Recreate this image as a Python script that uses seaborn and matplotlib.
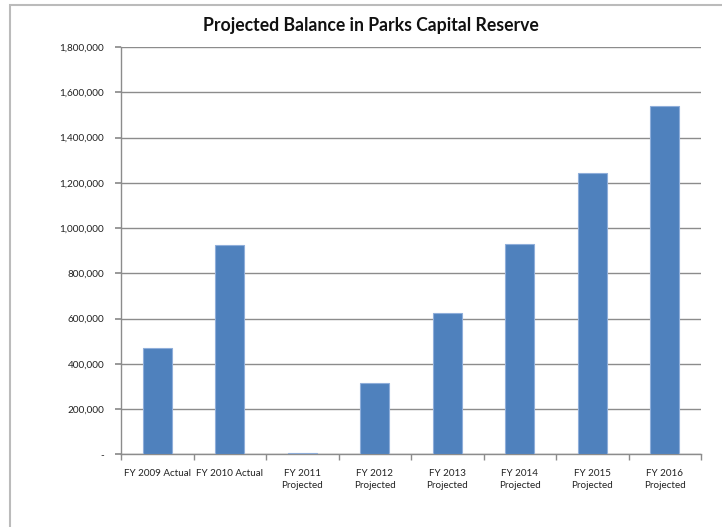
import matplotlib
matplotlib.use("Agg")
import matplotlib.pyplot as plt
import seaborn as sns
import pandas as pd
from matplotlib.patches import Rectangle
from matplotlib.ticker import FuncFormatter, FixedLocator

categories = ["FY 2009 Actual", "FY 2010 Actual", "FY 2011\nProjected", "FY 2012\nProjected",
              "FY 2013\nProjected", "FY 2014\nProjected", "FY 2015\nProjected", "FY 2016\nProjected"]
balances = [469000, 927000, 5000, 314000, 624000, 930000, 1243000, 1541000]
y_ticks = [0, 200000, 400000, 600000, 800000, 1000000, 1200000, 1400000, 1600000, 1800000]
title = "Projected Balance in Parks Capital Reserve"

sns.set_theme(style="white")
plt.rcParams['font.family'] = ['Lato', 'DejaVu Sans']

df = pd.DataFrame({"cat": categories, "val": balances})

fig = plt.figure(figsize=(7.22, 5.27), dpi=100)
ax = fig.add_axes([121/722, 1-454.3/527, (701-121)/722, (454.3-47)/527])

sns.barplot(data=df, x="cat", y="val", color="#4F81BD", width=0.4, ax=ax,
            saturation=1, edgecolor="#8FAEDA", linewidth=0.8, zorder=3)

ax.set_xlim(-0.5, len(categories) - 0.5)
ax.set_ylim(0, 1800000)
ax.yaxis.set_major_locator(FixedLocator(y_ticks))
ax.yaxis.set_major_formatter(FuncFormatter(lambda v, p: "-" if v == 0 else f"{int(v):,}"))
ax.grid(axis="y", color="#8C8C8C", linewidth=1, zorder=0)
ax.grid(axis="x", visible=False)
ax.set_xlabel("")
ax.set_ylabel("")

for s in ["top", "right"]:
    ax.spines[s].set_visible(False)
for s in ["left", "bottom"]:
    ax.spines[s].set_color("#8C8C8C")
    ax.spines[s].set_linewidth(1)

ax.tick_params(axis="x", which="major", length=0, labelsize=7.1, colors="#222222", pad=10.5)
ax.set_xticks(range(len(categories)))
ax.set_xticklabels(categories, linespacing=1.4)
ax.set_xticks([i - 0.5 for i in range(len(categories) + 1)], minor=True)
ax.tick_params(axis="x", which="minor", length=4, color="#8C8C8C", direction="out", bottom=True)
ax.tick_params(axis="y", which="major", length=4, color="#8C8C8C", direction="out", left=True,
               labelsize=7.2, colors="#222222", pad=8)
for lab in ax.get_yticklabels():
    lab.set_color("#222222")

fig.text(371/722, 1-26/527, title, ha="center", va="center", fontsize=12.7, fontweight="bold", color="#111111")

fig.patches.append(Rectangle((10/722, -0.05), 1.1, 1 - 4.5/527 + 0.05, transform=fig.transFigure,
                             fill=False, edgecolor="#BBBBBB", linewidth=1.5))

fig.savefig("out.png", dpi=100)
